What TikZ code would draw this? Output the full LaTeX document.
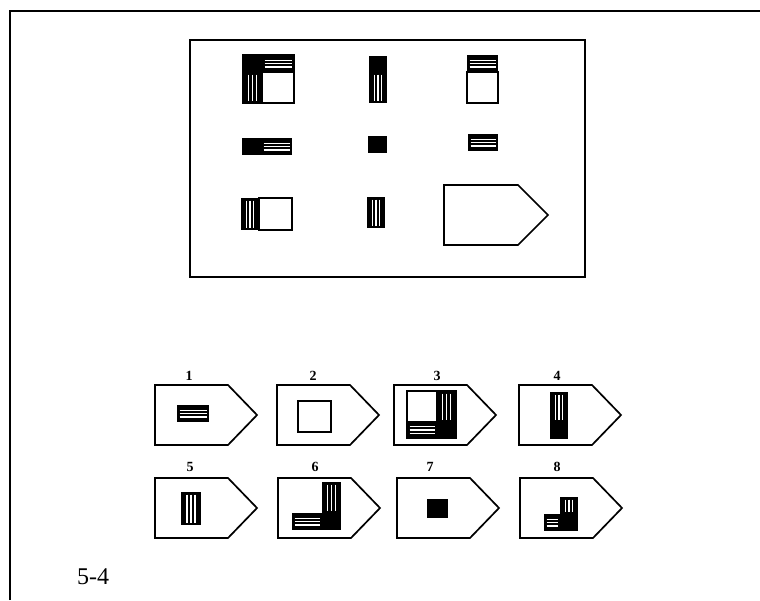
\documentclass[tikz,border=0pt]{standalone}
\usepackage{fontspec}
\setmainfont{Liberation Serif}
\begin{document}
\begin{tikzpicture}[x=1pt,y=-1pt,
  frameline/.style={line width=1.8pt},
  shapeline/.style={line width=1.7pt, line join=miter},
  numlabel/.style={font=\bfseries\fontsize{14}{14}\selectfont, inner sep=0pt}]
\useasboundingbox (0,0) rectangle (760,600);

% block helpers: corners (x1,y1) and (x2,y2)
\newcommand{\bblk}[4]{\fill[black] (#1,#2) rectangle (#3,#4);}
\newcommand{\wblk}[4]{\draw[line width=1.6pt, fill=white] (#1,#2) rectangle (#3,#4);}
\newcommand{\hblk}[4]{%
  \fill[black] (#1,#2) rectangle (#3,#4);
  \foreach \f in {0.3,0.5,0.7}
    \draw[white, line width=1.2pt] ({#1+2.5},{#2+\f*(#4-#2)}) -- ({#3-2.5},{#2+\f*(#4-#2)});}
\newcommand{\vblk}[4]{%
  \fill[black] (#1,#2) rectangle (#3,#4);
  \foreach \f in {0.3,0.5,0.7}
    \draw[white, line width=1.2pt] ({#1+\f*(#3-#1)},{#2+2.5}) -- ({#1+\f*(#3-#1)},{#4-2.5});}
% house-shaped outline: left x, top y, width of the straight part, tip depth, height
\newcommand{\pentfig}[5]{%
  \draw[shapeline] (#1,#2) -- ({#1+#3},#2) -- ({#1+#3+#4},{#2+#5/2}) -- ({#1+#3},{#2+#5}) -- (#1,{#2+#5}) -- cycle;}

% outer frame (left and top edges)
\draw[frameline] (10,600) -- (10,11) -- (760,11);

% inner frame with the 3x3 grid
\draw[frameline] (190,40) rectangle (585,277);

% row 1
\bblk{243}{55}{262}{72}
\hblk{262}{55}{294}{72}
\vblk{243}{72}{262}{103}
\wblk{262}{72}{294}{103}
\draw[line width=1.2pt] (243,55) rectangle (294,103);

\bblk{369}{56}{387}{72}
\vblk{369}{72}{387}{103}

\hblk{467}{55}{498}{72}
\wblk{467}{72}{498}{103}

% row 2
\bblk{242}{138}{261}{155}
\hblk{261}{138}{292}{155}

\bblk{368}{136}{387}{153}

\hblk{468}{134}{498}{151}

% row 3
\vblk{241}{198}{259}{230}
\wblk{259}{198}{292}{230}

\vblk{367}{197}{385}{228}

\pentfig{444}{185}{74}{30}{60}

% answer options
\pentfig{155}{385}{73}{29}{60}
\pentfig{277}{385}{73}{29}{60}
\pentfig{394}{385}{73}{29}{60}
\pentfig{519}{385}{73}{29}{60}
\pentfig{155}{478}{73}{29}{60}
\pentfig{278}{478}{73}{29}{60}
\pentfig{397}{478}{73}{29}{60}
\pentfig{520}{478}{73}{29}{60}

\node[numlabel] (n1) at (189,376) {1};
\node[numlabel] (n2) at (313,376) {2};
\node[numlabel] (n3) at (437,376) {3};
\node[numlabel] (n4) at (557,376) {4};
\node[numlabel] (n5) at (190,467) {5};
\node[numlabel] (n6) at (315,467) {6};
\node[numlabel] (n7) at (430,467) {7};
\node[numlabel] (n8) at (557,467) {8};

% option 1
\hblk{177}{405}{209}{422}
% option 2
\wblk{298}{401}{331}{432}
% option 3
\wblk{407}{391}{437}{422}
\vblk{437}{391}{456}{422}
\hblk{407}{422}{437}{438}
\bblk{437}{422}{456}{438}
\draw[line width=1.2pt] (407,391) rectangle (456,438);
% option 4
\vblk{550}{392}{568}{422}
\bblk{550}{422}{568}{439}
% option 5
\vblk{181}{492}{201}{525}
% option 6
\vblk{322}{482}{341}{513}
\hblk{292}{513}{322}{530}
\bblk{322}{513}{341}{530}
% option 7
\bblk{427}{499}{448}{518}
% option 8
\vblk{560}{497}{578}{514}
\hblk{544}{514}{560}{531}
\bblk{560}{514}{578}{531}

\node[font=\fontsize{24}{24}\selectfont, anchor=west, inner sep=0pt] (cap) at (77,577) {5-4};
\end{tikzpicture}
\end{document}
